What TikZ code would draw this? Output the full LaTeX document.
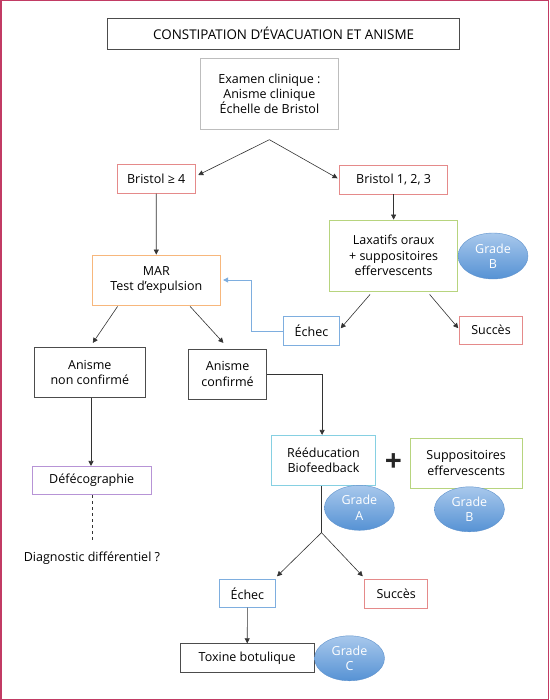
\documentclass[tikz,border=0pt]{standalone}
\usepackage{fontspec}
\setmainfont{Open Sans}
\usetikzlibrary{arrows.meta,shapes.geometric}

\definecolor{framecol}{HTML}{C23B64}
\definecolor{redline}{HTML}{E58A8A}
\definecolor{orangeline}{HTML}{F7B77C}
\definecolor{greenline}{HTML}{B7D47E}
\definecolor{blueline}{HTML}{7EAEDF}
\definecolor{cyanline}{HTML}{86D0E2}
\definecolor{purpleline}{HTML}{B794D6}
\definecolor{grayline}{HTML}{BDBDBD}
\definecolor{gradetop}{HTML}{A8C8EC}
\definecolor{gradebot}{HTML}{5692D4}
\definecolor{gradeline}{HTML}{5F92CC}

\begin{document}
\begin{tikzpicture}[x=1pt, y=-1pt, font=\fontsize{12.5}{15.3}\selectfont,
    box/.style={draw, align=center, inner sep=0pt, line width=0.8pt},
    grade/.style={ellipse, draw=gradeline, top color=gradetop, bottom color=gradebot,
      text=white, align=center, minimum width=70pt, minimum height=45pt, inner sep=0pt},
    arr/.style={-{Triangle[length=5pt,width=5pt]}, line width=0.6pt, draw=black!80}]

    \useasboundingbox (0,0) rectangle (549,700);
    \draw[framecol, line width=1.5pt] (0.75,0.75) rectangle (548.25,699.25);

    \node[box, draw=black!70, minimum width=351.6pt, minimum height=31pt, font=\fontsize{13.4}{16}\selectfont] (title) at (283.6,33.8) {CONSTIPATION D’ÉVACUATION ET ANISME};
    \node[box, draw=grayline, minimum width=137.6pt, minimum height=71pt] (exam) at (269.4,93.8) {Examen clinique :\\Anisme clinique\\Échelle de Bristol};
    \node[box, draw=redline, minimum width=77.7pt, minimum height=29pt] (bris4) at (156.2,178.8) {Bristol ≥ 4};
    \node[box, draw=redline, minimum width=107.9pt, minimum height=28.3pt] (bris123) at (393.6,179.8) {Bristol 1, 2, 3};
    \node[box, draw=greenline, minimum width=127.5pt, minimum height=71pt] (laxat) at (393.6,255.5) {Laxatifs oraux\\+ suppositoires\\effervescents};
    \node[grade, minimum height=46pt] (gradeB1) at (493,256) {Grade\\B};
    \node[box, draw=orangeline, minimum width=127.8pt, minimum height=50pt] (mar) at (156.3,280) {MAR\\Test d’expulsion};
    \node[box, draw=blueline, minimum width=55.7pt, minimum height=28.3pt] (echec1) at (311.5,330.8) {Échec};
    \node[box, draw=redline, minimum width=62.7pt, minimum height=28.3pt] (succes1) at (491,330.2) {Succès};
    \node[box, draw=black!70, minimum width=111pt, minimum height=50pt] (nonconf) at (89.8,372.7) {Anisme\\non confirmé};
    \node[box, draw=black!70, minimum width=78.4pt, minimum height=50pt] (conf) at (227.6,374) {Anisme\\confirmé};
    \node[box, draw=purpleline, minimum width=119pt, minimum height=28.3pt] (defeco) at (91.7,480.5) {Défécographie};
    \node (diag) at (91.9,558) {Diagnostic différentiel ?};
    \node[box, draw=cyanline, minimum width=104.3pt, minimum height=50.3pt] (reeduc) at (323.5,460.5) {Rééducation\\Biofeedback};
    \node[font=\fontsize{30}{30}\selectfont\bfseries, text=black!85, inner sep=0pt] (plus) at (393.5,463) {+};
    \node[box, draw=greenline, minimum width=111.7pt, minimum height=50pt] (suppo) at (466.2,463) {Suppositoires\\effervescents};
    \node[grade] (gradeA) at (359.4,507.8) {Grade\\A};
    \node[grade] (gradeB2) at (469.4,509.3) {Grade\\B};
    \node[box, draw=blueline, minimum width=56.4pt, minimum height=28pt] (echec2) at (247.4,593.3) {Échec};
    \node[box, draw=redline, minimum width=62.7pt, minimum height=28.6pt] (succes2) at (396.2,594) {Succès};
    \node[box, draw=black!70, minimum width=133.8pt, minimum height=28.3pt] (toxine) at (247.2,657.8) {Toxine botulique};
    \node[grade] (gradeC) at (349.5,658.3) {Grade\\C};

    \coordinate (split) at ([yshift=-10pt]exam.south);
    \coordinate (fork) at ([xshift=-2pt,yshift=-46.6pt]reeduc.south);

    \draw[arr] (split) -- ([xshift=2.8pt,yshift=3.8pt]bris4.east);
    \draw[arr] (split) -- ([xshift=-1.7pt,yshift=1.5pt]bris123.west);
    \draw[arr] (bris123) -- (laxat);
    \draw[arr] (bris4) -- (mar);
    \draw[arr] ([xshift=-23.5pt,yshift=-3pt]laxat.south) -- ([xshift=1pt,yshift=2.5pt]echec1.east);
    \draw[arr] ([xshift=36pt,yshift=-3pt]laxat.south) -- ([xshift=-1pt,yshift=2pt]succes1.west);
    \draw[arr, draw=blueline] (echec1.west) -- ++(-31.5,0) |- ([xshift=2.5pt]mar.east);
    \draw[arr] ([xshift=-38.7pt,yshift=-1pt]mar.south) -- ([xshift=3pt,yshift=4.4pt]nonconf.north);
    \draw[arr] ([xshift=33.8pt,yshift=-1pt]mar.south) -- ([xshift=-4.2pt,yshift=5.7pt]conf.north);
    \draw[arr] (conf.east) -| ([xshift=-1.4pt]reeduc.north);
    \draw[arr] ([xshift=1.2pt]nonconf.south) -- ([xshift=-0.7pt]defeco.north);
    \draw[dashed, draw=black!80, line width=0.6pt] ([xshift=0.7pt]defeco.south) -- ([xshift=0.5pt,yshift=6pt]diag.north);
    \draw[line width=0.6pt, draw=black!80] ([xshift=-2pt]reeduc.south) -- (fork);
    \draw[arr] (fork) -- ([xshift=1pt,yshift=2.6pt]echec2.north east);
    \draw[arr] (fork) -- ([xshift=-1.7pt,yshift=3pt]succes2.north west);
    \draw[arr] (echec2) -- (toxine);
\end{tikzpicture}
\end{document}
